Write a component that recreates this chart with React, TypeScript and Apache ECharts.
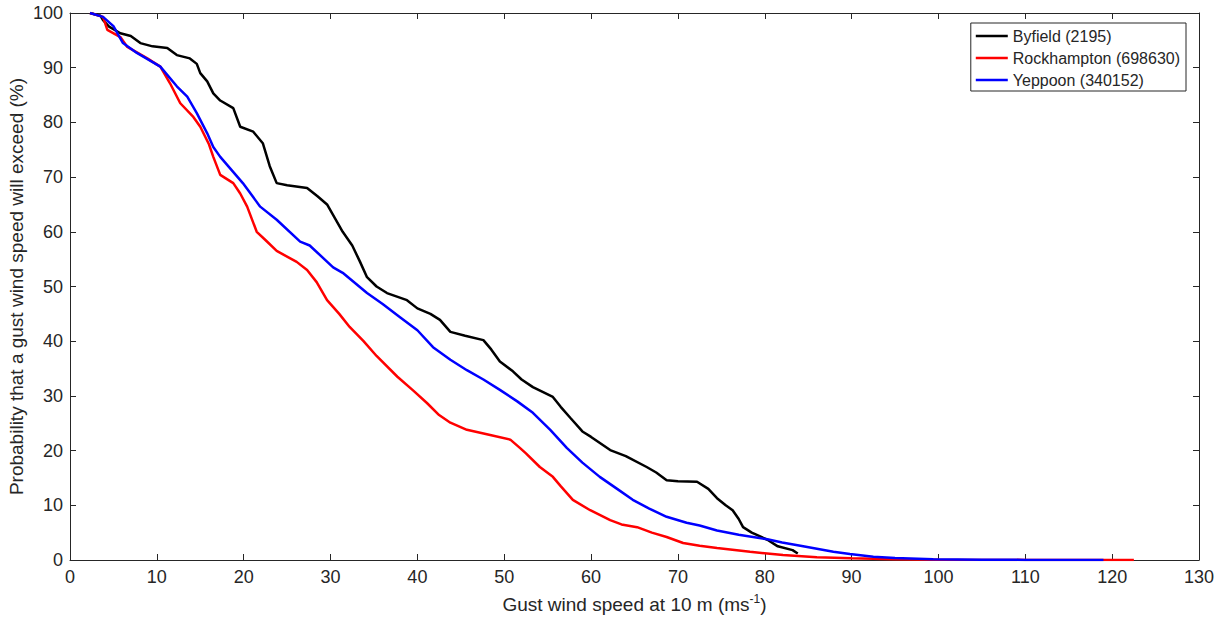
import React, { useEffect, useRef } from "react";
import * as echarts from "echarts";

const seriesNames = ["Byfield (2195)", "Rockhampton (698630)", "Yeppoon (340152)"];
const seriesColors = ["#000000", "#ff0000", "#0000ff"];

const xTicks = [0, 10, 20, 30, 40, 50, 60, 70, 80, 90, 100, 110, 120, 130];
const yTicks = [0, 10, 20, 30, 40, 50, 60, 70, 80, 90, 100];

const byfield: [number, number][] = [
  [2.3, 100], [3.5, 99.5], [3.8, 98.7], [4.5, 97.5], [5.8, 96.3], [7, 95.8], [8.1, 94.5],
  [9.5, 93.9], [11.2, 93.6], [12.3, 92.3], [13.8, 91.7], [14.6, 90.7], [15, 89], [15.8, 87.5],
  [16.5, 85.3], [17.3, 84], [18.8, 82.6], [19.6, 79.2], [21.1, 78.3], [22.2, 76.2], [23, 72],
  [23.8, 68.9], [25, 68.5], [27.3, 68], [28.5, 66.5], [29.6, 65], [30.5, 62.5], [31.4, 60],
  [32.5, 57.5], [33.4, 54.5], [34.2, 51.7], [35.3, 50], [36.5, 48.8], [38.8, 47.5], [40, 46],
  [41.5, 45], [42.6, 43.9], [43.8, 41.7], [45.5, 41], [47.6, 40.2], [48.5, 38.5], [49.5, 36.3],
  [51, 34.5], [52, 33], [53.3, 31.6], [55.6, 29.8], [56.5, 28], [57.6, 26], [59, 23.5],
  [60, 22.5], [62.2, 20.1], [64, 19], [66.4, 17], [67.5, 16], [68.7, 14.6], [70, 14.4],
  [72.2, 14.3], [73.5, 13], [74.5, 11.3], [75.5, 10], [76.3, 9.1], [77, 7.5], [77.5, 6],
  [78.5, 5], [80.3, 3.7], [81.5, 2.5], [83.2, 1.8], [83.8, 1.2],
];

const rockhampton: [number, number][] = [
  [2.3, 100], [3.8, 99.3], [4.3, 96.9], [5.8, 95.6], [6.6, 93.8], [8.9, 91.7], [10.4, 90.2],
  [11.5, 87.2], [12.7, 83.5], [14.2, 81], [15, 79.2], [16, 76], [16.5, 73.7], [17.3, 70.4],
  [18.8, 68.9], [19.6, 67], [20.4, 64.6], [21.5, 60], [22.5, 58.5], [23.8, 56.5], [26.1, 54.5],
  [27.3, 53], [28.4, 50.8], [29.6, 47.5], [31, 45], [32.2, 42.6], [33.8, 40], [35.3, 37.3],
  [37.7, 33.5], [39.5, 31], [41.1, 28.7], [42.5, 26.5], [43.8, 25.1], [45.7, 23.8], [48, 23],
  [50.7, 22], [51.8, 20.5], [52.5, 19.5], [54.1, 17], [55.6, 15.2], [56.5, 13.5], [57.9, 11],
  [59.9, 9.1], [62.2, 7.3], [63.5, 6.5], [65.3, 6], [67, 5], [68.7, 4.2], [70.6, 3.1],
  [72.5, 2.6], [74.5, 2.2], [78.3, 1.5], [82.1, 0.9], [86, 0.5], [90, 0.3], [95, 0.15],
  [100, 0.05], [110, 0.02], [122.5, 0],
];

const yeppoon: [number, number][] = [
  [2.3, 100], [3.8, 99.3], [5, 97.6], [6.1, 94.5], [7.7, 92.7], [10.4, 90.2], [12.3, 86.6],
  [13.5, 84.7], [14.6, 81.7], [15.8, 78], [16.5, 75.5], [17.3, 73.7], [19.9, 68.9],
  [21.9, 64.6], [23.8, 62.2], [26.5, 58.2], [27.6, 57.5], [30.3, 53.5], [31.4, 52.5],
  [34.2, 48.8], [36, 46.8], [38, 44.4], [40, 42], [41.8, 38.9], [43.8, 36.6], [45.7, 34.7],
  [47.6, 33], [49.5, 31.1], [51.5, 29], [53.3, 26.9], [55.3, 23.8], [57.2, 20.5], [59, 17.8],
  [61, 15.2], [63, 13], [64.8, 11], [66.7, 9.4], [68.7, 7.9], [71, 6.8], [72.5, 6.3],
  [74.5, 5.4], [77, 4.6], [80.3, 3.8], [82, 3.2], [84.1, 2.6], [87.9, 1.5], [89.8, 1.1],
  [92.5, 0.6], [95, 0.35], [99.4, 0.15], [105, 0.05], [110, 0.02], [119, 0],
];

const seriesData = [byfield, rockhampton, yeppoon];

const FONT = "'Liberation Sans', Arial, Helvetica, sans-serif";
const AX = "#262626";

export default function App() {
  const ref = useRef<HTMLDivElement>(null);
  useEffect(() => {
    if (!ref.current) return;
    const chart = echarts.init(ref.current, undefined, { renderer: "svg" });
    const xMin = xTicks[0];
    const xMax = xTicks[xTicks.length - 1];
    const yMin = yTicks[0];
    const yMax = yTicks[yTicks.length - 1];
    const xInt = xTicks[1] - xTicks[0];
    const yInt = yTicks[1] - yTicks[0];
    const tick = { show: true, inside: true, length: 6, lineStyle: { color: AX, width: 1 } };
    const line = { show: true, onZero: false, lineStyle: { color: AX, width: 1 } };
    chart.setOption({
      animation: false,
      backgroundColor: "#ffffff",
      textStyle: { fontFamily: FONT },
      grid: { left: 70, right: 17, top: 13, bottom: 59, containLabel: false, outerBoundsMode: "none" },
      legend: {
        show: true,
        orient: "vertical",
        right: 30,
        top: 23,
        padding: [5, 6, 3, 5],
        itemWidth: 32,
        itemHeight: 16,
        itemGap: 6,
        backgroundColor: "#ffffff",
        borderColor: AX,
        borderWidth: 1,
        borderRadius: 0,
        textStyle: { fontSize: 16, lineHeight: 16, color: AX, fontFamily: FONT },
        data: seriesNames.map((n, i) => ({
          name: n,
          icon: "path://M0,7 L32,7 L32,9.5 L0,9.5 Z",
          itemStyle: { color: seriesColors[i] },
        })),
      },
      xAxis: [
        {
          type: "value",
          position: "bottom",
          min: xMin,
          max: xMax,
          interval: xInt,
          axisLine: line,
          axisTick: tick,
          splitLine: { show: false },
          axisLabel: { show: true, color: AX, fontSize: 18, margin: 8, fontFamily: FONT },
          name: "Gust wind speed at 10 m (ms{sup|-1})",
          nameLocation: "middle",
          nameGap: 33,
          nameTextStyle: {
            color: AX,
            fontSize: 19,
            fontFamily: FONT,
            verticalAlign: "top",
            lineHeight: 22,
            rich: {
              sup: { fontSize: 12, fontFamily: FONT, color: AX, verticalAlign: "top", lineHeight: 13, padding: [0, 0, 9, 0] },
            },
          },
        },
        {
          type: "value",
          position: "top",
          min: xMin,
          max: xMax,
          interval: xInt,
          axisLine: line,
          axisTick: tick,
          splitLine: { show: false },
          axisLabel: { show: false },
        },
      ],
      yAxis: [
        {
          type: "value",
          position: "left",
          min: yMin,
          max: yMax,
          interval: yInt,
          axisLine: line,
          axisTick: tick,
          splitLine: { show: false },
          axisLabel: { show: true, color: AX, fontSize: 18, margin: 7, fontFamily: FONT },
          name: "Probability that a gust wind speed will exceed (%)",
          nameLocation: "middle",
          nameGap: 44,
          nameMoveOverlap: false,
          nameTextStyle: { color: AX, fontSize: 19, fontFamily: FONT },
        },
        {
          type: "value",
          position: "right",
          min: yMin,
          max: yMax,
          interval: yInt,
          axisLine: line,
          axisTick: tick,
          splitLine: { show: false },
          axisLabel: { show: false },
        },
      ],
      series: seriesData.map((d, i) => ({
        name: seriesNames[i],
        type: "line",
        data: d,
        xAxisIndex: 0,
        yAxisIndex: 0,
        symbol: "none",
        showSymbol: false,
        smooth: false,
        lineStyle: { color: seriesColors[i], width: 2.5 },
        itemStyle: { color: seriesColors[i] },
        emphasis: { disabled: true },
        z: 2 + i,
      })),
    });
    return () => chart.dispose();
  }, []);
  return (
    <div
      ref={ref}
      style={{ position: "fixed", left: 0, top: 0, width: 1216, height: 619, background: "#fff" }}
    />
  );
}
